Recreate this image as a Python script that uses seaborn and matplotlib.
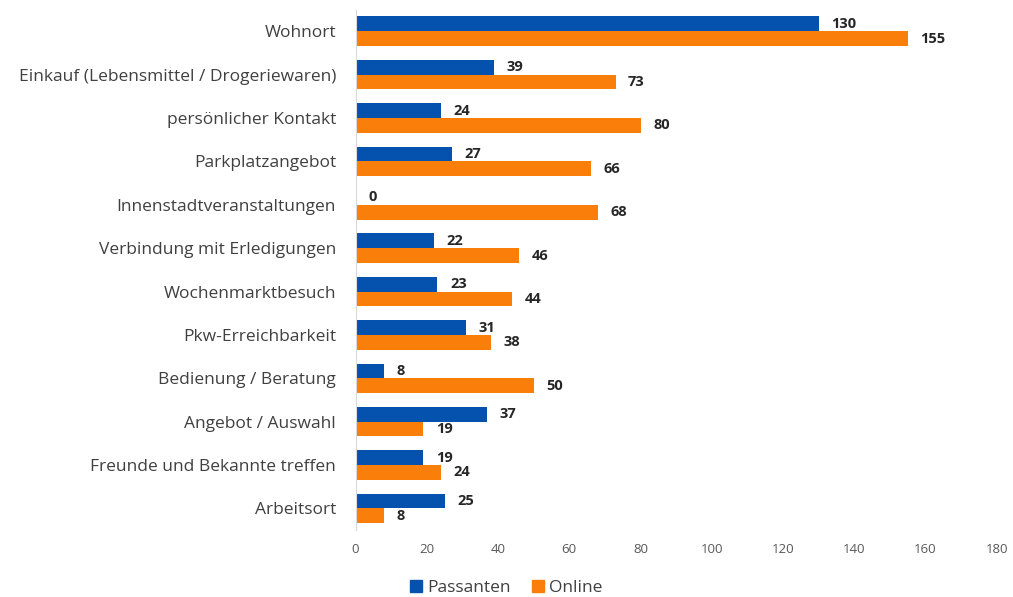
import pandas as pd
import seaborn as sns
import matplotlib.pyplot as plt

categories = [
    "Wohnort",
    "Einkauf (Lebensmittel / Drogeriewaren)",
    "persönlicher Kontakt",
    "Parkplatzangebot",
    "Innenstadtveranstaltungen",
    "Verbindung mit Erledigungen",
    "Wochenmarktbesuch",
    "Pkw-Erreichbarkeit",
    "Bedienung / Beratung",
    "Angebot / Auswahl",
    "Freunde und Bekannte treffen",
    "Arbeitsort",
]
passanten = [130, 39, 24, 27, 0, 22, 23, 31, 8, 37, 19, 25]
online = [155, 73, 80, 66, 68, 46, 44, 38, 50, 19, 24, 8]
series = ["Passanten", "Online"]
colors = ["#0552AE", "#FA7F0A"]

df = pd.DataFrame({
    "Kategorie": categories * 2,
    "Wert": passanten + online,
    "Gruppe": [series[0]] * len(categories) + [series[1]] * len(categories),
})

sns.set_style("white")
plt.rcParams["font.family"] = ["Open Sans", "DejaVu Sans"]

fig = plt.figure(figsize=(10.13, 5.97), dpi=100)
ax = fig.add_axes([0.351, 0.112, 0.633, 0.872])

sns.barplot(data=df, y="Kategorie", x="Wert", hue="Gruppe", palette=colors,
            order=categories, hue_order=series, width=0.68, orient="h",
            saturation=1, linewidth=0, ax=ax, legend=False)

for cont in ax.containers:
    ax.bar_label(cont, padding=9, fontsize=10.5, fontweight="bold", color="#262626")

ax.set_xlim(0, 180)
ax.set_ylim(11.5, -0.5)
ax.set_xticks(range(0, 181, 20))
ax.tick_params(axis="x", labelsize=9.5, colors="#595959", length=0, pad=9)
ax.tick_params(axis="y", labelsize=12.5, colors="#404040", length=0, pad=14)
ax.set_xlabel("")
ax.set_ylabel("")
for s in ["top", "right", "bottom"]:
    ax.spines[s].set_visible(False)
ax.spines["left"].set_color("#D9D9D9")

handles = [plt.Rectangle((0, 0), 1, 1, color=c) for c in colors]
fig.legend(handles, series, loc="lower center", bbox_to_anchor=(0.5, -0.024),
           ncol=2, frameon=False, fontsize=12.5, handlelength=0.7, handleheight=0.7,
           handletextpad=0.3, columnspacing=1.2, labelcolor="#404040")

fig.savefig("out.png", dpi=100)
